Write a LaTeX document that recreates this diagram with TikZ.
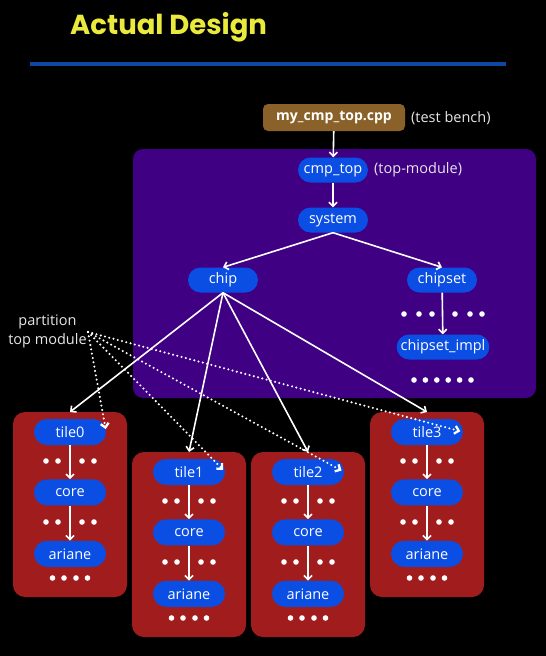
\documentclass[tikz,border=0pt]{standalone}
\usepackage{fontspec}
\setmainfont{Open Sans}
\newfontfamily\titlefont{Poppins}
\usetikzlibrary{arrows.meta, positioning, calc}
\definecolor{pageFill}{HTML}{000000}
\definecolor{titleYellow}{HTML}{EAEA3C}
\definecolor{ruleBlue}{HTML}{0D47A1}
\definecolor{topFill}{HTML}{3F0084}
\definecolor{benchFill}{HTML}{8A6128}
\definecolor{modBlue}{HTML}{0A4EE4}
\definecolor{tileFill}{HTML}{A11D1D}
\definecolor{noteGray}{HTML}{E6E6E6}
\def\dotR{2.8}

\begin{document}
\begin{tikzpicture}[x=1pt, y=-1pt,
                    font=\fontsize{14.5}{17}\selectfont,
                    mod/.style={fill=modBlue, text=white, rounded corners=12.5pt,
                                minimum width=70pt, minimum height=25pt,
                                inner xsep=4pt, inner ysep=0pt},
                    note/.style={text=noteGray, anchor=west, inner sep=0pt},
                    link/.style={draw=white, line width=1.6pt,
                                 -{Straight Barb[length=4pt, width=8pt]}},
                    partlink/.style={draw=white, line width=2.3pt,
                                     dash pattern=on 0pt off 4.4pt, line cap=round,
                                     -{Straight Barb[length=4pt, width=8pt]}}]

    % ==========================================================
    % 1. PAGE, TITLE AND RULE
    % ==========================================================
    \fill[pageFill] (0,0) rectangle (546,656);
    \node[anchor=west, text=titleYellow, inner sep=0pt,
          font=\titlefont\bfseries\fontsize{27.5}{30}\selectfont]
        (title) at (70,27) {Actual Design};
    \fill[ruleBlue] (30,62) rectangle (506,66);

    % ==========================================================
    % 2. TOP-MODULE REGION
    % ==========================================================
    \fill[topFill, rounded corners=10pt] (133,149) rectangle (536,398);

    \node[fill=benchFill, text=white, rounded corners=5pt,
          minimum width=142pt, minimum height=27pt, inner sep=0pt,
          font=\bfseries\fontsize{14}{17}\selectfont]
        (bench) at (334,117.5) {my\_cmp\_top.cpp};
    \node[note] (benchNote) at (411,118) {(test bench)};

    \node[mod] (cmpTop)  at (333,170) {cmp\_top};
    \node[note] (topNote) at (374,170) {(top-module)};
    \node[mod] (system)  at (333,220) {system};
    \node[mod] (chip)    at (223,280) {chip};
    \node[mod] (chipset) at (442,280) {chipset};
    \node[mod] (impl)    at (443,347) {chipset\_impl};

    \draw[link] (bench) -- (cmpTop);
    \draw[link] (cmpTop) -- (system);
    \draw[link] (system.south) -- (chip.north);
    \draw[link] (system.south) -- (chipset.north);
    \draw[link] (chipset) -- (impl);

    % dots standing for the rest of the chipset
    \foreach \dx in {-38,-23,-10,13,28,40}
        \fill[white] (442+\dx,314) circle (\dotR);
    \foreach \i in {0,...,5}
        \fill[white] (414+11.4*\i,380) circle (\dotR);

    % ==========================================================
    % 3. TILES (box, tile -> core -> ariane)
    % ==========================================================
    \foreach \n/\cx/\cy in {0/70/432, 1/189/472, 2/308/472, 3/427/432} {
        \fill[tileFill, rounded corners=12pt]
            (\cx-57,\cy-20) rectangle (\cx+57,\cy+165);
        \coordinate (box\n) at (\cx,\cy-20);
        \node[mod, minimum width=72pt, minimum height=26pt, rounded corners=13pt]
            (tile\n) at (\cx,\cy) {tile\n};
        \node[mod, minimum width=72pt, minimum height=26pt, rounded corners=13pt,
              below=34pt of tile\n] (core\n) {core};
        \node[mod, minimum width=72pt, minimum height=26pt, rounded corners=13pt,
              below=35pt of core\n] (ariane\n) {ariane};
        \draw[link] (tile\n) -- (core\n);
        \draw[link] (core\n) -- (ariane\n);
        \foreach \dx in {-24,-12,12,24} {
            \fill[white] (\cx+\dx,\cy+29) circle (\dotR);
            \fill[white] (\cx+\dx,\cy+90) circle (\dotR);
        }
        \foreach \dx in {-17.5,-6,6,17.5}
            \fill[white] (\cx+\dx,\cy+146) circle (\dotR);
    }

    % chip instantiates the four tiles
    \foreach \n in {0,...,3}
        \draw[link] (chip.south) -- (box\n);

    % ==========================================================
    % 4. PARTITION CALLOUT
    % ==========================================================
    \node[text=noteGray, align=center, inner sep=0pt,
          font=\fontsize{14.5}{19}\selectfont]
        (partition) at (47.5,331) {partition\\top module};
    \coordinate (partFrom) at (88,332);
    \foreach \n in {0,...,3}
        \draw[partlink, shorten >=3pt] (partFrom) -- (tile\n.east);

\end{tikzpicture}
\end{document}
